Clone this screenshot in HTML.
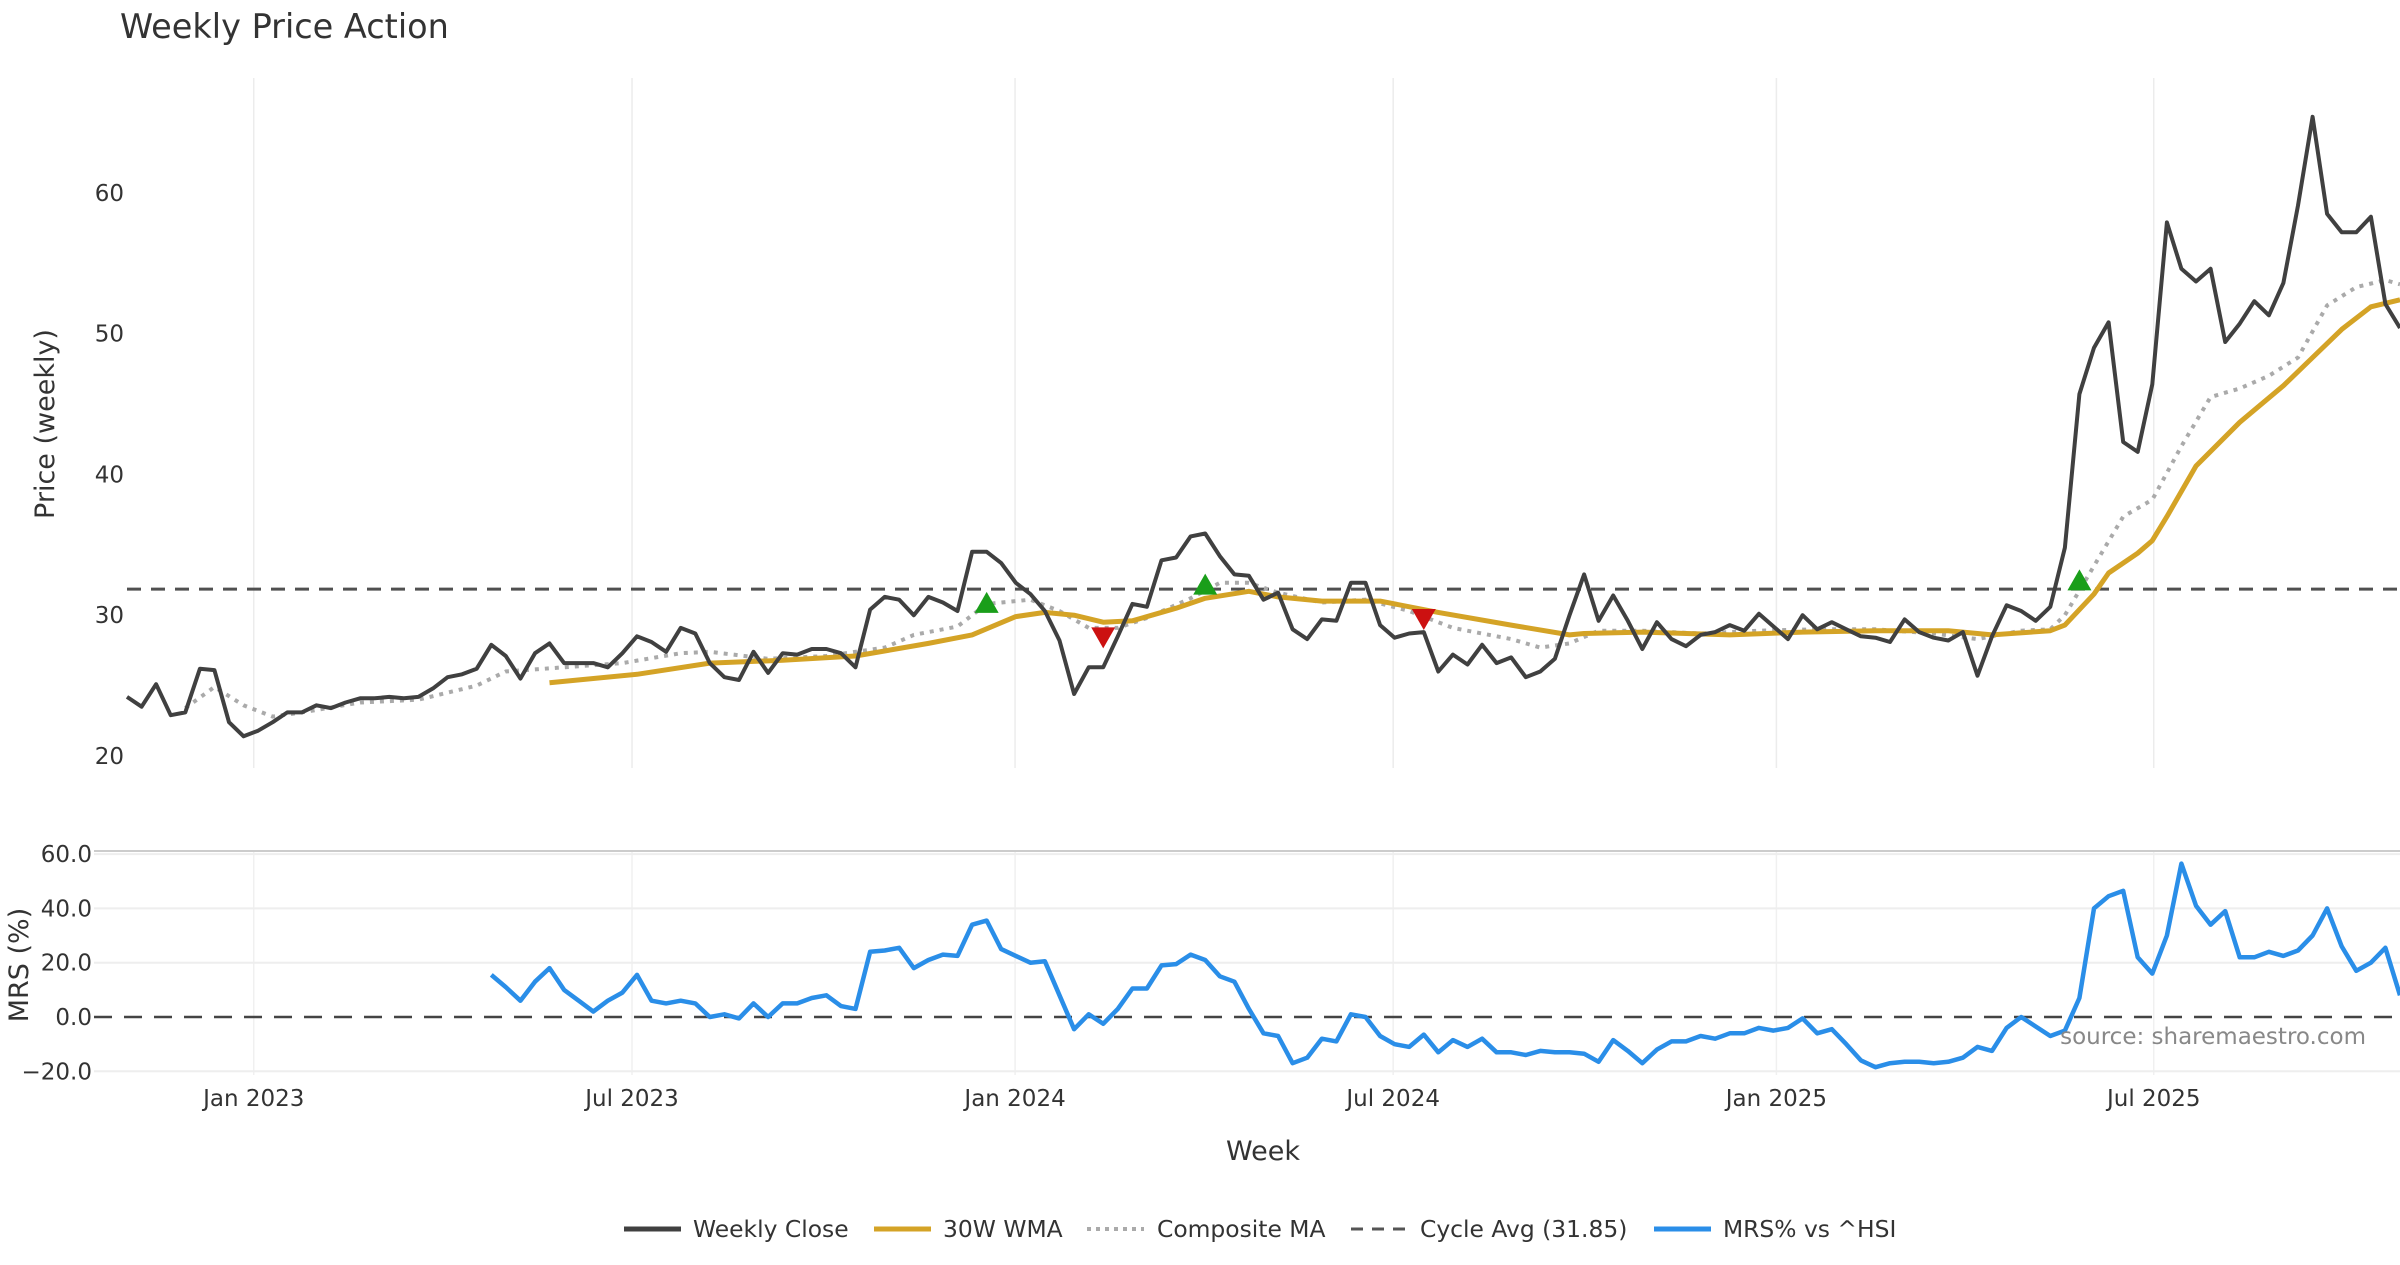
<!DOCTYPE html>
<html><head><meta charset="utf-8"><style>
body{margin:0;background:#fff;}
svg text{font-family:"DejaVu Sans","Liberation Sans",sans-serif;}
</style></head><body>
<svg id="chart" width="2400" height="1260" xmlns="http://www.w3.org/2000/svg">
<text x="120" y="38" font-size="33.5" fill="#333">Weekly Price Action</text>
<g id="grid"></g>
<g id="price"></g>
<g id="mrs"></g>
<text transform="translate(54,424) rotate(-90)" text-anchor="middle" font-size="27" fill="#333">Price (weekly)</text>
<text transform="translate(28,965) rotate(-90)" text-anchor="middle" font-size="27" fill="#333">MRS (%)</text>
<text x="1263" y="1160" text-anchor="middle" font-size="27" fill="#333">Week</text>
<text x="2366" y="1044" text-anchor="end" font-size="23" fill="#888">source: sharemaestro.com</text>
<g id="legend" font-size="23.4" fill="#333">
 <g><line x1="624" y1="1229" x2="681" y2="1229" stroke="#404040" stroke-width="5"/><text x="693" y="1237">Weekly Close</text></g>
 <g><line x1="874" y1="1229" x2="931" y2="1229" stroke="#d4a326" stroke-width="5"/><text x="943" y="1237">30W WMA</text></g>
 <g><line x1="1087" y1="1229" x2="1144" y2="1229" stroke="#aaa" stroke-width="4" stroke-dasharray="4,5"/><text x="1157" y="1237">Composite MA</text></g>
 <g><line x1="1351" y1="1229" x2="1408" y2="1229" stroke="#555" stroke-width="3" stroke-dasharray="12,9"/><text x="1420" y="1237">Cycle Avg (31.85)</text></g>
 <g><line x1="1654" y1="1229" x2="1711" y2="1229" stroke="#2a8ee8" stroke-width="5"/><text x="1723" y="1237">MRS% vs ^HSI</text></g>
</g>
</svg>
<script>
const closeVals=[24.2,23.5,25.1,22.9,23.1,26.2,26.1,22.4,21.4,21.8,22.4,23.1,23.1,23.6,23.4,23.8,24.1,24.1,24.2,24.1,24.2,24.8,25.6,25.8,26.2,27.9,27.1,25.5,27.3,28.0,26.6,26.6,26.6,26.3,27.3,28.5,28.1,27.4,29.1,28.7,26.6,25.6,25.4,27.4,25.9,27.3,27.2,27.6,27.6,27.3,26.3,30.4,31.3,31.1,30.0,31.3,30.9,30.3,34.5,34.5,33.7,32.3,31.5,30.3,28.2,24.4,26.3,26.3,28.5,30.8,30.6,33.9,34.1,35.6,35.8,34.2,32.9,32.8,31.1,31.6,29.0,28.3,29.7,29.6,32.3,32.3,29.3,28.4,28.7,28.8,26.0,27.2,26.5,27.9,26.6,27.0,25.6,26.0,26.9,30.0,32.9,29.6,31.4,29.6,27.6,29.5,28.3,27.8,28.6,28.8,29.3,28.9,30.1,29.2,28.3,30.0,29.0,29.5,29.0,28.5,28.4,28.1,29.7,28.8,28.4,28.2,28.8,25.7,28.5,30.7,30.3,29.6,30.6,34.8,45.7,49.0,50.8,42.3,41.6,46.4,57.9,54.6,53.7,54.6,49.4,50.7,52.3,51.3,53.6,59.1,65.4,58.5,57.2,57.2,58.3,52.1,50.4];
const wmaWeeks=[29,35,40,45,50,55,58,61,63,65,67,69,72,74,77,79,82,86,90,95,99,100,104,110,115,120,125,128,132,133,135,136,138,139,140,142,145,148,150,152,154,156];
const wmaVals=[25.2,25.8,26.6,26.8,27.1,28.0,28.6,29.9,30.2,30.0,29.5,29.6,30.5,31.2,31.7,31.3,31.0,31.0,30.2,29.3,28.6,28.7,28.8,28.6,28.8,28.9,28.9,28.6,28.9,29.3,31.5,33.0,34.4,35.3,37.0,40.6,43.7,46.3,48.3,50.3,51.9,52.4];
const compWeeks=[4,6,8,10,12,16,20,24,26,30,34,38,40,44,48,52,54,57,59,62,64,66,68,70,73,75,77,79,82,85,88,91,95,97,99,101,104,108,112,116,120,124,127,130,132,133,135,137,139,141,143,145,147,149,151,153,155,156];
const compVals=[23.4,24.9,23.6,22.8,23.1,23.8,24.0,25.0,26.0,26.3,26.6,27.3,27.4,26.9,27.1,27.7,28.6,29.2,30.8,31.1,30.3,29.1,29.1,29.8,31.2,32.3,32.3,31.6,30.9,31.1,30.3,29.1,28.3,27.7,28.0,28.9,28.9,28.7,28.9,29.0,29.0,28.7,28.3,28.9,29.0,30.0,33.5,37.0,38.2,42.0,45.5,46.1,47.0,48.3,52.0,53.3,53.8,53.5];
const buyWeeks=[59,74,134], buyVals=[30.8,32.1,32.4];
const sellWeeks=[67,89], sellVals=[28.5,29.8];
const cycleAvg=31.85;
const mrsStart=25;
const mrsVals=[15.5,11,6,13,18,10,6,2,6,9,15.5,6,5,6,5,0,1,-0.5,5,0,5,5,7,8,4,3,24,24.5,25.5,18,21,23,22.5,34,35.5,25,22.5,20,20.5,8,-4.5,1,-2.5,3,10.5,10.5,19,19.5,23,21,15,13,3,-6,-7,-17,-15,-8,-9,1,0,-7,-10,-11,-6.5,-13,-8.5,-11,-8,-13,-13,-14,-12.5,-13,-13,-13.5,-16.5,-8.5,-12.5,-17,-12,-9,-9,-7,-8,-6,-6,-4,-5,-4,-0.5,-6,-4.5,-10,-16,-18.5,-17,-16.5,-16.5,-17,-16.5,-15,-11,-12.5,-4,0,-3.5,-7,-5,7,40,44.5,46.5,22,16,30,56.5,41,34,39,22,22,24,22.5,24.5,30,40,26,17,20,25.5,8];
const dateTicks=["Jan 2023","Jul 2023","Jan 2024","Jul 2024","Jan 2025","Jul 2025"];
const dateTickWeeks=[8.7,34.66,60.95,86.9,113.2,139.1];
const priceTicks=[20,30,40,50,60];
const mrsTicks=[-20,0,20,40,60];

const NS="http://www.w3.org/2000/svg";
const X0=127,X1=2400,NW=156;
const xw=w=>X0+(X1-X0)*w/NW;
const yp=v=>756-(v-20)*14.08;
const ym=v=>1017-v*2.715;
function mk(parent,tag,attrs){const e=document.createElementNS(NS,tag);for(const k in attrs)e.setAttribute(k,attrs[k]);document.getElementById(parent).appendChild(e);return e;}
function poly(ws,vs,f){return ws.map((w,i)=>xw(w).toFixed(1)+","+f(vs[i]).toFixed(1)).join(" ");}

dateTickWeeks.forEach((w,i)=>{
 let g=mk('grid','line',{x1:xw(w),x2:xw(w),y1:78,y2:768,stroke:'#ececec','stroke-width':1.5});
 
 
 let g2=mk('grid','line',{x1:xw(w),x2:xw(w),y1:852,y2:1075,stroke:'#f0f0f0','stroke-width':1.5});
 
 
 let t=mk('grid','text',{x:xw(w),y:1106,'text-anchor':'middle','font-size':23,fill:'#333'});
 t.textContent=dateTicks[i];
 
 
});
priceTicks.forEach(v=>{
 let t=mk('grid','text',{x:124,y:yp(v)+8,'text-anchor':'end','font-size':23,fill:'#333'});
 t.textContent=v;
 
 
});
mk('grid','line',{x1:94,x2:2400,y1:851,y2:851,stroke:'#ccc','stroke-width':2});
mrsTicks.forEach(v=>{
 if(v!==0){let l=mk('grid','line',{x1:94,x2:2400,y1:ym(v),y2:ym(v),stroke:'#eee','stroke-width':2});
 
 }
 let t=mk('grid','text',{x:92,y:ym(v)+8,'text-anchor':'end','font-size':23,fill:'#333'});
 t.textContent=v.toFixed(1).replace('-','\u2212');
 
 
});

let cyc=mk('price','line',{x1:X0,x2:X1,y1:yp(cycleAvg),y2:yp(cycleAvg),stroke:'#505050','stroke-width':3,'stroke-dasharray':'14,10'});


let cp=mk('price','polyline',{points:poly(compWeeks,compVals,yp),fill:'none',stroke:'#aaa','stroke-width':4,'stroke-dasharray':'4,6'});


let wl=mk('price','polyline',{points:poly(wmaWeeks,wmaVals,yp),fill:'none',stroke:'#d4a326','stroke-width':5,'stroke-linejoin':'round'});


let cl=mk('price','polyline',{points:poly(closeVals.map((v,i)=>i),closeVals,yp),fill:'none',stroke:'#404040','stroke-width':4,'stroke-linejoin':'round'});


buyWeeks.forEach((w,i)=>{const x=xw(w),y=yp(buyVals[i]);
 let m=mk('price','polygon',{points:`${x-12},${y+9} ${x+12},${y+9} ${x},${y-12}`,fill:'#1a9e1a'});
 
 });
sellWeeks.forEach((w,i)=>{const x=xw(w),y=yp(sellVals[i]);
 let m=mk('price','polygon',{points:`${x-12},${y-9} ${x+12},${y-9} ${x},${y+12}`,fill:'#cc1111'});
 
 });

let z=mk('mrs','line',{x1:94,x2:X1,y1:ym(0),y2:ym(0),stroke:'#444','stroke-width':2.5,'stroke-dasharray':'18,12'});


let ml=mk('mrs','polyline',{points:poly(mrsVals.map((v,i)=>i+mrsStart),mrsVals,ym),fill:'none',stroke:'#2a8ee8','stroke-width':4.5,'stroke-linejoin':'round'});


</script>
</body></html>
